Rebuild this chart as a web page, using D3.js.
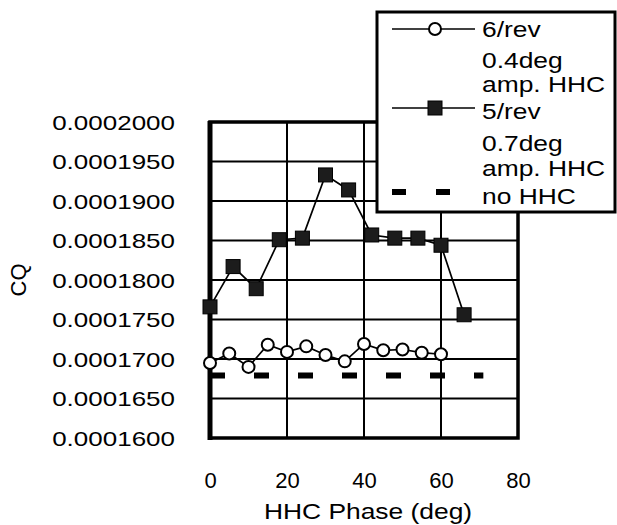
<!DOCTYPE html>
<html>
<head>
<meta charset="utf-8">
<script src="https://cdn.jsdelivr.net/npm/d3@7"></script>
<style>
  body { margin: 0; background: #fff; }
  text { font-family: "Liberation Sans", Arial, sans-serif; fill: #000; }
</style>
</head>
<body>
<div id="chart"></div>
<script>
// Data
var phase6 = [0, 5, 10, 15, 20, 25, 30, 35, 40, 45, 50, 55, 60];
var cq6 = [0.0001695, 0.0001707, 0.0001690, 0.0001718, 0.0001709, 0.0001716, 0.0001705,
           0.0001697, 0.0001719, 0.0001711, 0.0001712, 0.0001708, 0.0001706];
var phase5 = [0, 6, 12, 18, 24, 30, 36, 42, 48, 54, 60, 66];
var cq5 = [0.0001766, 0.0001817, 0.0001789, 0.0001851, 0.0001853, 0.0001933, 0.0001914,
           0.0001857, 0.0001853, 0.0001853, 0.0001844, 0.0001756];
var phaseNo = [0, 71];
var cqNo = [0.0001679, 0.0001679];
var xTicks = [0, 20, 40, 60, 80];
var yTicks = [0.00016, 0.000165, 0.00017, 0.000175, 0.00018, 0.000185, 0.00019, 0.000195, 0.0002];
var legendLabels = [["6/rev", "0.4deg", "amp. HHC"], ["5/rev", "0.7deg", "amp. HHC"], ["no HHC"]];

var cfg = {
  w: 617, h: 525,
  left: 210, right: 518, top: 122, bottom: 438
};

var svg = d3.select("#chart").append("svg")
  .attr("width", cfg.w)
  .attr("height", cfg.h);

var x = d3.scaleLinear().domain([0, 80]).range([cfg.left, cfg.right]);
var y = d3.scaleLinear().domain([0.00016, 0.0002]).range([cfg.bottom, cfg.top]);

// grid
svg.append("g").selectAll("line")
  .data(yTicks)
  .enter().append("line")
  .attr("x1", cfg.left).attr("x2", cfg.right)
  .attr("y1", function(d){ return y(d); })
  .attr("y2", function(d){ return y(d); })
  .style("stroke", "#000").style("stroke-width", 2);
svg.append("g").selectAll("line")
  .data(xTicks)
  .enter().append("line")
  .attr("y1", cfg.top).attr("y2", cfg.bottom)
  .attr("x1", function(d){ return x(d); })
  .attr("x2", function(d){ return x(d); })
  .style("stroke", "#000").style("stroke-width", 2);

// frame
svg.append("rect")
  .attr("x", cfg.left).attr("y", cfg.top)
  .attr("width", cfg.right - cfg.left).attr("height", cfg.bottom - cfg.top)
  .style("fill", "none").style("stroke", "#000").style("stroke-width", 3.5);
svg.append("line")
  .attr("x1", cfg.left).attr("x2", cfg.left).attr("y1", cfg.top - 1).attr("y2", cfg.bottom + 2)
  .style("stroke", "#000").style("stroke-width", 5);

// axes
var yAxis = svg.append("g")
  .attr("transform", "translate(" + cfg.left + ",0)")
  .call(d3.axisLeft(y).tickValues(yTicks).tickFormat(d3.format(".7f")).tickSize(0).tickPadding(35));
yAxis.select(".domain").remove();
yAxis.selectAll("text")
  .attr("x", 0).attr("dy", "0.35em")
  .attr("transform", "translate(-35,0) scale(1.3,1)")
  .style("font-size", "20px")
  .style("font-family", "'Liberation Sans', Arial, sans-serif");

var xAxis = svg.append("g")
  .attr("transform", "translate(0," + cfg.bottom + ")")
  .call(d3.axisBottom(x).tickValues(xTicks).tickFormat(d3.format("d")).tickSize(0).tickPadding(34));
xAxis.select(".domain").remove();
xAxis.selectAll("text")
  .style("font-size", "22px")
  .style("font-family", "'Liberation Sans', Arial, sans-serif");

svg.append("text")
  .attr("transform", "translate(368,519) scale(1.2,1)")
  .attr("text-anchor", "middle")
  .style("font-size", "22px")
  .text("HHC Phase (deg)");

svg.append("text")
  .attr("transform", "translate(26,280) rotate(-90)")
  .attr("text-anchor", "middle")
  .style("font-size", "22px")
  .text("CQ");

// series
var line = d3.line()
  .x(function(d){ return x(d[0]); })
  .y(function(d){ return y(d[1]); });

var noData = d3.zip(phaseNo, cqNo);
var data5 = d3.zip(phase5, cq5);
var data6 = d3.zip(phase6, cq6);

svg.append("path")
  .attr("d", line(noData))
  .style("fill", "none").style("stroke", "#000")
  .style("stroke-width", 6).style("stroke-dasharray", "15,29");

svg.append("path")
  .attr("d", line(data5))
  .style("fill", "none").style("stroke", "#000").style("stroke-width", 1.7);
svg.append("g").selectAll("rect")
  .data(data5)
  .enter().append("rect")
  .attr("x", function(d){ return x(d[0]) - 7; })
  .attr("y", function(d){ return y(d[1]) - 7; })
  .attr("width", 14).attr("height", 14)
  .style("fill", "#1c1c1c").style("stroke", "#000").style("stroke-width", 1);

svg.append("path")
  .attr("d", line(data6))
  .style("fill", "none").style("stroke", "#000").style("stroke-width", 1.7);
svg.append("g").selectAll("circle")
  .data(data6)
  .enter().append("circle")
  .attr("cx", function(d){ return x(d[0]); })
  .attr("cy", function(d){ return y(d[1]); })
  .attr("r", 6)
  .style("fill", "#fff").style("stroke", "#000").style("stroke-width", 2);

// legend
var lg = svg.append("g");
lg.append("rect")
  .attr("x", 377).attr("y", 12).attr("width", 238).attr("height", 200)
  .style("fill", "#fff").style("stroke", "#000").style("stroke-width", 3);

var rows = [[29, 60, 84], [111, 143, 168], [196]];
var sampleY = [29, 108, 192];

lg.append("line")
  .attr("x1", 392).attr("x2", 475).attr("y1", sampleY[0]).attr("y2", sampleY[0])
  .style("stroke", "#000").style("stroke-width", 1.7);
lg.append("circle")
  .attr("cx", 435).attr("cy", sampleY[0]).attr("r", 6)
  .style("fill", "#fff").style("stroke", "#000").style("stroke-width", 2);
lg.append("line")
  .attr("x1", 392).attr("x2", 475).attr("y1", sampleY[1]).attr("y2", sampleY[1])
  .style("stroke", "#000").style("stroke-width", 1.7);
lg.append("rect")
  .attr("x", 428).attr("y", sampleY[1] - 7).attr("width", 14).attr("height", 14)
  .style("fill", "#1c1c1c").style("stroke", "#000").style("stroke-width", 1);
lg.append("line")
  .attr("x1", 392).attr("x2", 475).attr("y1", sampleY[2]).attr("y2", sampleY[2])
  .style("stroke", "#000").style("stroke-width", 6).style("stroke-dasharray", "14,30");

legendLabels.forEach(function(lines, i){
  lines.forEach(function(t, j){
    lg.append("text")
      .attr("transform", "translate(482," + rows[i][j] + ") scale(1.2,1)")
      .attr("dy", "0.35em")
      .style("font-size", "22px")
      .text(t);
  });
});
</script>
</body>
</html>
